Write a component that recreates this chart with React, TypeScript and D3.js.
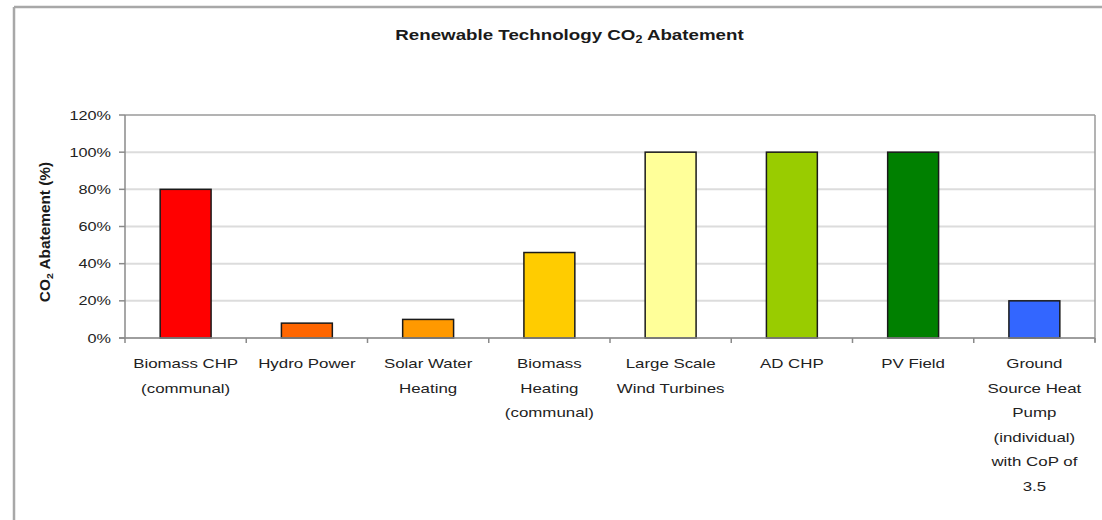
import React from "react";
import * as d3 from "d3";

const categories = [
  "Biomass CHP (communal)",
  "Hydro Power",
  "Solar Water Heating",
  "Biomass Heating (communal)",
  "Large Scale Wind Turbines",
  "AD CHP",
  "PV Field",
  "Ground Source Heat Pump (individual) with CoP of 3.5",
];
const labelLines = [
  ["Biomass CHP", "(communal)"],
  ["Hydro Power"],
  ["Solar Water", "Heating"],
  ["Biomass", "Heating", "(communal)"],
  ["Large Scale", "Wind Turbines"],
  ["AD CHP"],
  ["PV Field"],
  ["Ground", "Source Heat", "Pump", "(individual)", "with CoP of", "3.5"],
];
const values = [80, 8, 10, 46, 100, 100, 100, 20];
const barColors = ["#FF0000", "#FF6600", "#FF9900", "#FFCC00", "#FFFF99", "#99CC00", "#008000", "#3366FF"];
const yTicks = [0, 20, 40, 60, 80, 100, 120];

const W = 1102;
const H = 520;
const plot = { left: 125, right: 1095, top: 115, bottom: 338 };
const SX = 1.25; // horizontal stretch of text in reference

export default function App() {
  const x = d3
    .scaleBand<string>()
    .domain(categories)
    .range([plot.left, plot.right])
    .paddingInner(0.58)
    .paddingOuter(0.29);
  const step = x.step();
  const y = d3.scaleLinear().domain([0, 120]).range([plot.bottom, plot.top]);
  const font = "'Liberation Sans', Arial, sans-serif";
  const bounds = categories.map((_, i) => plot.left + i * step);
  bounds.push(plot.right);

  return (
    <svg
      width={W}
      height={H}
      style={{ position: "absolute", left: 0, top: 0, background: "#fff" }}
      fontFamily={font}
    >
      {/* outer chart border */}
      <line x1={14} y1={7} x2={W} y2={7} stroke="#a8a8a8" strokeWidth={2.5} />
      <line x1={14} y1={7} x2={14} y2={H} stroke="#a8a8a8" strokeWidth={2.5} />

      {/* title */}
      <g transform={`translate(569.5,40) scale(${SX},1)`}>
        <text textAnchor="middle" fontSize={15} fontWeight="bold" fill="#1a1a1a">
          Renewable Technology CO
          <tspan fontSize={10} dy={3}>2</tspan>
          <tspan dy={-3}> Abatement</tspan>
        </text>
      </g>

      {/* gridlines */}
      {yTicks.map((t) => (
        <line
          key={"g" + t}
          x1={plot.left}
          x2={plot.right}
          y1={y(t)}
          y2={y(t)}
          stroke={t === 120 ? "#9a9a9a" : "#dcdcdc"}
          strokeWidth={t === 120 ? 1.5 : 2}
        />
      ))}
      {/* right plot border */}
      <line x1={plot.right} x2={plot.right} y1={plot.top} y2={plot.bottom + 4} stroke="#9a9a9a" strokeWidth={1.5} />

      {/* bars */}
      {categories.map((c, i) => (
        <rect
          key={c}
          x={x(c)}
          y={y(values[i])}
          width={x.bandwidth()}
          height={y(0) - y(values[i])}
          fill={barColors[i]}
          stroke="#1a1a1a"
          strokeWidth={1.5}
        />
      ))}

      {/* axes */}
      <line x1={plot.left} x2={plot.left} y1={plot.top} y2={plot.bottom} stroke="#8a8a8a" strokeWidth={1.5} />
      <line x1={plot.left - 6} x2={plot.right} y1={plot.bottom} y2={plot.bottom} stroke="#8a8a8a" strokeWidth={1.5} />
      {yTicks.map((t) => (
        <g key={"yt" + t}>
          <line x1={plot.left - 6} x2={plot.left} y1={y(t)} y2={y(t)} stroke="#8a8a8a" strokeWidth={1.5} />
          <g transform={`translate(${plot.left - 14},${y(t) + 4.5}) scale(${SX},1)`}>
            <text textAnchor="end" fontSize={13} fill="#222">
              {t + "%"}
            </text>
          </g>
        </g>
      ))}
      {bounds.map((b, i) => (
        <line key={"xt" + i} x1={b} x2={b} y1={plot.bottom} y2={plot.bottom + 5} stroke="#8a8a8a" strokeWidth={1.5} />
      ))}

      {/* category labels */}
      {categories.map((c, i) => {
        const cx = (x(c) as number) + x.bandwidth() / 2;
        return (
          <g key={"lab" + i}>
            {labelLines[i].map((ln, j) => (
              <g key={j} transform={`translate(${cx},${368 + j * 24.5}) scale(${SX},1)`}>
                <text textAnchor="middle" fontSize={13.5} fill="#222">
                  {ln}
                </text>
              </g>
            ))}
          </g>
        );
      })}

      {/* y-axis title */}
      <g transform={`translate(50,232) rotate(-90) scale(1.1,1)`}>
        <text textAnchor="middle" fontSize={14} fontWeight="bold" fill="#1a1a1a">
          CO
          <tspan fontSize={9.5} dy={3}>2</tspan>
          <tspan dy={-3}> Abatement (%)</tspan>
        </text>
      </g>
    </svg>
  );
}
